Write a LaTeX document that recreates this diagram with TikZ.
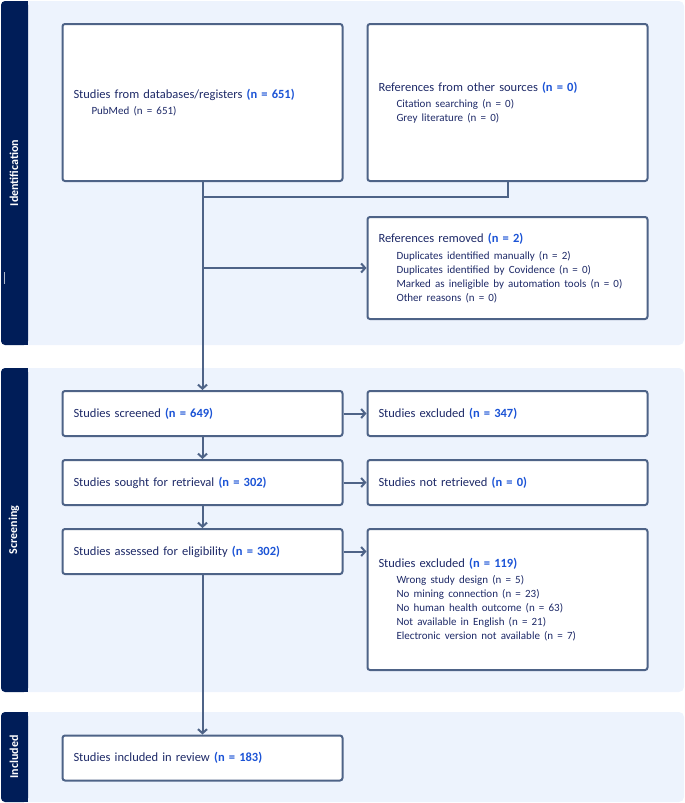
\documentclass[tikz,border=0pt]{standalone}
\usepackage{fontspec}
\setmainfont{Carlito}
\usetikzlibrary{positioning, arrows.meta, calc}

\definecolor{bar}{RGB}{0,29,88}
\definecolor{panel}{RGB}{237,243,253}
\definecolor{edge}{RGB}{78,99,135}
\definecolor{ink}{RGB}{30,42,104}
\definecolor{numblue}{RGB}{28,84,214}

\newcommand{\nn}[1]{\textbf{\color{numblue}(n = #1)}}
\newcommand{\subline}[1]{\hspace*{18pt}{\fontsize{11}{14}\selectfont #1}}

\begin{document}
\begin{tikzpicture}[x=1pt, y=-1pt, node distance=22pt,
    box/.style={draw=edge, line width=2pt, rounded corners=2.5pt, fill=white,
      minimum width=280pt, minimum height=45pt, inner xsep=11pt, text width=258pt,
      align=left, text=ink, font=\fontsize{12.5}{14}\selectfont},
    link/.style={draw=edge, line width=2pt},
    arr/.style={link, -{Straight Barb[length=4pt, width=9pt]}},
    phase/.style={rotate=90, text=white, font=\fontsize{12}{14}\selectfont\bfseries}]
    \useasboundingbox (0,0) rectangle (685,803);

    % phase panels
    \foreach \top/\bot in {1/345, 368/692, 712/802} {
        \fill[panel, rounded corners=5pt] (20,\top) rectangle (684,\bot);
        \fill[bar, rounded corners=4pt] (1,\top) rectangle (28,\bot);
        \fill[bar] (20,\top) rectangle (28,\bot);
    }
    \node[phase] (idlab) at (14,173) {Identification};
    \node[phase] (scrlab) at (14,530) {Screening};
    \node[phase] (inclab) at (14,757) {Included};
    \draw[white!70!bar, line width=0.8pt] (4,272) -- (4,284);

    % identification
    \node[box, minimum height=157pt] (db) at (202.5,102.5) {Studies from databases/registers \nn{651}\\[2.5pt]
        \subline{PubMed (n = 651)}};
    \node[box, minimum height=157pt, right=23pt of db] (other) {References from other sources \nn{0}\\[2.5pt]
        \subline{Citation searching (n = 0)}\\
        \subline{Grey literature (n = 0)}};
    \node[box, minimum height=102pt, below=34pt of other] (removed) {References removed \nn{2}\\[2.5pt]
        \subline{Duplicates identified manually (n = 2)}\\
        \subline{Duplicates identified by Covidence (n = 0)}\\
        \subline{Marked as ineligible by automation tools (n = 0)}\\
        \subline{Other reasons (n = 0)}};

    % screening
    \node[box] (screened) at (202.5,413.5) {Studies screened \nn{649}};
    \node[box, right=23pt of screened] (excl) {Studies excluded \nn{347}};
    \node[box, below=of screened] (sought) {Studies sought for retrieval \nn{302}};
    \node[box, right=23pt of sought] (notret) {Studies not retrieved \nn{0}};
    \node[box, below=of sought] (assessed) {Studies assessed for eligibility \nn{302}};
    \node[box, minimum height=141pt, right=23pt of assessed.north east, anchor=north west] (exclwhy) {Studies excluded \nn{119}\\[2.5pt]
        \subline{Wrong study design (n = 5)}\\
        \subline{No mining connection (n = 23)}\\
        \subline{No human health outcome (n = 63)}\\
        \subline{Not available in English (n = 21)}\\
        \subline{Electronic version not available (n = 7)}};

    % included
    \node[box] (included) at (202.5,758) {Studies included in review \nn{183}};

    % connectors
    \coordinate (merge) at ($(db.south)+(0,15)$);
    \draw[link] (other.south) |- (merge);
    \draw[arr] (db.south) -- (merge |- screened.north);
    \draw[arr] (merge |- removed.west) -- (removed.west);
    \draw[arr] (screened.east) -- (excl.west);
    \draw[arr] (screened.south) -- (sought.north);
    \draw[arr] (sought.east) -- (notret.west);
    \draw[arr] (sought.south) -- (assessed.north);
    \draw[arr] (assessed.east) -- (assessed.east -| exclwhy.west);
    \draw[arr] (assessed.south) -- (included.north);
\end{tikzpicture}
\end{document}
